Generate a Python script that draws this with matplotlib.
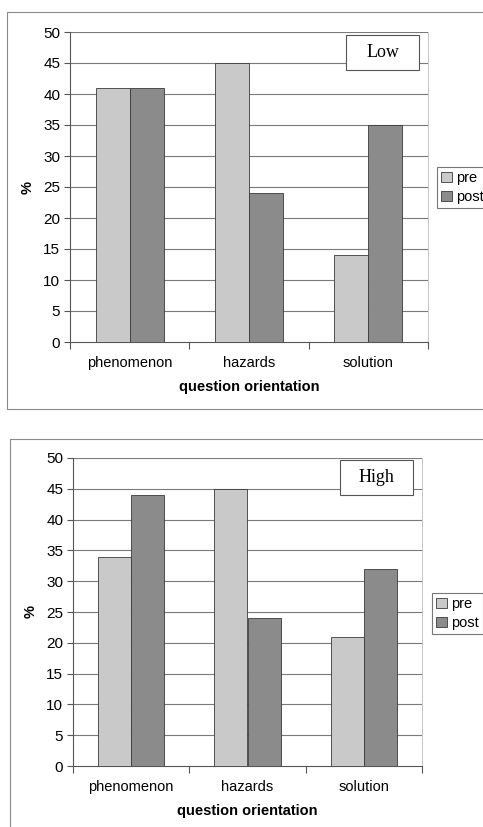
import matplotlib
matplotlib.use("Agg")
import matplotlib.pyplot as plt
from matplotlib.patches import Rectangle
import numpy as np

categories = ["phenomenon", "hazards", "solution"]
low_pre = [41, 45, 14]
low_post = [41, 24, 35]
high_pre = [34, 45, 21]
high_post = [44, 24, 32]
yticks = [0, 5, 10, 15, 20, 25, 30, 35, 40, 45, 50]
series_names = ["pre", "post"]

W, H = 483, 827
plt.rcParams['font.family'] = ['Liberation Sans', 'DejaVu Sans']
fig = plt.figure(figsize=(W/100, H/100), dpi=100)

PRE_C = "#c9c9c9"
POST_C = "#8b8b8b"
EDGE = "#3a3a3a"

def fx(px):
    return px / W

def fy(py):
    return 1 - py / H

def make_panel(rect, pre, post, title, title_box, legend_xy, frame):
    fx0, fy0, fx1, fy1 = frame
    fig.patches.append(Rectangle((fx(fx0), fy(fy1)), fx(fx1) - fx(fx0), fy(fy0) - fy(fy1),
                                 transform=fig.transFigure, fill=False,
                                 edgecolor="#8a8a8a", linewidth=0.8))
    l, t, r, b = rect
    ax = fig.add_axes([fx(l), fy(b), fx(r) - fx(l), fy(t) - fy(b)])
    x = np.arange(len(categories))
    w = 1 / 3.5
    ax.bar(x - w/2, pre, w, color=PRE_C, edgecolor=EDGE, linewidth=0.6, zorder=3, label=series_names[0])
    ax.bar(x + w/2, post, w, color=POST_C, edgecolor=EDGE, linewidth=0.6, zorder=3, label=series_names[1])
    ax.set_xlim(-0.5, len(categories) - 0.5)
    ax.set_ylim(0, 50)
    ax.set_yticks(yticks)
    ax.tick_params(axis='y', length=4, width=0.8, color="#555555", labelsize=11, pad=3)
    for yv in yticks[1:]:
        ax.axhline(yv, color="#7a7a7a", linewidth=0.8, zorder=1)
    ax.set_xticks(x)
    ax.set_xticklabels(categories, fontsize=10.5)
    ax.tick_params(axis='x', which='major', length=0, pad=10)
    ax.set_xticks(np.arange(-0.5, len(categories)), minor=True)
    ax.tick_params(axis='x', which='minor', length=5, width=0.8, color="#555555")
    ax.spines['top'].set_visible(False)
    ax.spines['right'].set_color("#bbbbbb")
    ax.spines['right'].set_linewidth(0.6)
    ax.spines['left'].set_color("#555555")
    ax.spines['bottom'].set_color("#555555")
    ax.spines['left'].set_linewidth(0.8)
    ax.spines['bottom'].set_linewidth(0.8)
    ax.set_xlabel("question orientation", fontsize=10.5, fontweight='bold', labelpad=7)
    ax.set_ylabel("%", fontsize=10.5, fontweight='bold', labelpad=6)
    bx0, by0, bx1, by1 = title_box
    fig.patches.append(Rectangle((fx(bx0), fy(by1)), fx(bx1) - fx(bx0), fy(by0) - fy(by1),
                                 transform=fig.transFigure, facecolor="white",
                                 edgecolor="#555555", linewidth=0.8, zorder=5))
    fig.text(fx((bx0 + bx1) / 2), fy((by0 + by1) / 2), title, family='Liberation Serif',
             fontsize=13, ha='center', va='center', zorder=6)
    leg = ax.legend(loc='upper left', bbox_to_anchor=(fx(legend_xy[0]), fy(legend_xy[1])),
                    bbox_transform=fig.transFigure, borderaxespad=0, fontsize=10.5,
                    handlelength=0.7, handleheight=0.7, handletextpad=0.3,
                    labelspacing=0.3, borderpad=0.3, fancybox=False, frameon=True)
    leg.get_frame().set_edgecolor("#555555")
    leg.get_frame().set_linewidth(0.8)
    return ax

make_panel((70, 32, 428, 342), low_pre, low_post, "Low", (346, 35, 419, 70), (437, 167), (7, 12, 500, 409))
make_panel((73, 458, 422, 766), high_pre, high_post, "High", (340, 460, 413, 495), (432, 593), (10, 439, 500, 850))

fig.savefig("out.png", dpi=100)
